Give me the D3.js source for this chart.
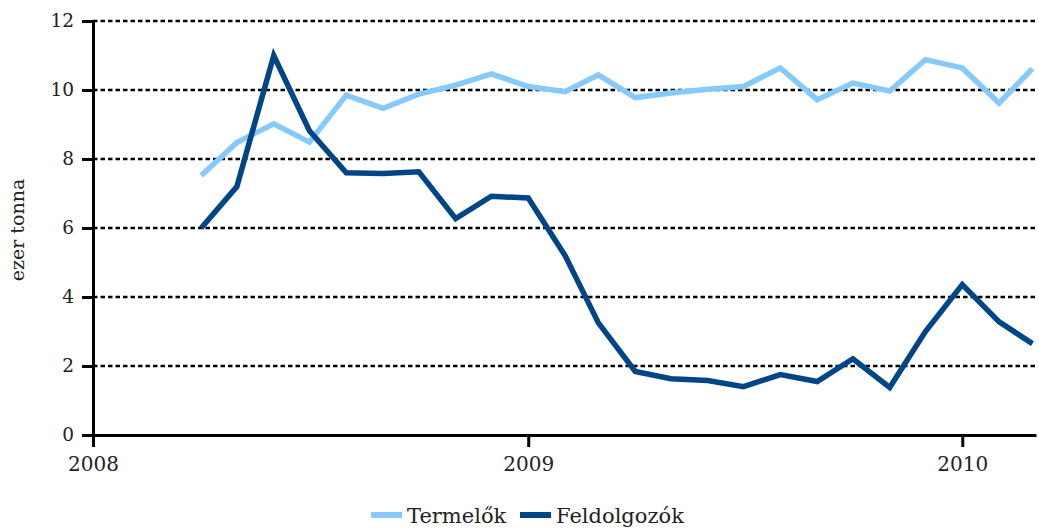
<!DOCTYPE html>
<html>
<meta charset="utf-8">
<script src="https://d3js.org/d3.v7.min.js"></script>
<style>
  body { margin: 0; background: #fff; }
</style>
<body>
<div id="my_dataviz"></div>
<script>
    // monthly data, Apr 2008 - Mar 2010
    const months = ["2008-04","2008-05","2008-06","2008-07","2008-08","2008-09","2008-10","2008-11","2008-12",
                    "2009-01","2009-02","2009-03","2009-04","2009-05","2009-06","2009-07","2009-08","2009-09",
                    "2009-10","2009-11","2009-12","2010-01","2010-02","2010-03"];
    const termelok = [7.52, 8.48, 9.02, 8.49, 9.85, 9.47, 9.88, 10.14, 10.47, 10.1, 9.95, 10.44,
                      9.78, 9.91, 10.02, 10.1, 10.64, 9.72, 10.2, 9.97, 10.88, 10.64, 9.62, 10.62];
    const feldolgozok = [6.0, 7.2, 11.0, 8.82, 7.6, 7.58, 7.63, 6.27, 6.92, 6.87, 5.2, 3.25,
                         1.84, 1.63, 1.58, 1.4, 1.75, 1.55, 2.21, 1.38, 3.0, 4.36, 3.28, 2.65];
    const yTicks = [0, 2, 4, 6, 8, 10, 12];
    const xTicks = ["2008", "2009", "2010"];

    const seriesNames = ["Termelők", "Feldolgozók"];
    const colors = ["#86c9fd", "#004687"];

    const W = 1039, H = 530;
    const margin = {left: 93, right: 1036, top: 21, bottom: 435};
    const serif = "'DejaVu Serif', serif";

    const svg = d3.select("#my_dataviz")
        .append("svg")
        .attr("width", W)
        .attr("height", H);

    const parseMonth = d3.timeParse("%Y-%m");
    const parseYear = d3.timeParse("%Y");
    const dates = months.map(parseMonth);

    const x = d3.scaleTime()
        .domain([parseYear("2008"), new Date(2010, 2, 4)])
        .range([margin.left, margin.right]);
    const y = d3.scaleLinear()
        .domain([0, 12])
        .range([margin.bottom, margin.top]);

    // dotted grid lines
    svg.append("g")
        .selectAll("line")
        .data(yTicks.filter(function(d) { return d > 0; }))
        .join("line")
        .attr("x1", margin.left)
        .attr("x2", margin.right)
        .attr("y1", function(d) { return y(d); })
        .attr("y2", function(d) { return y(d); })
        .attr("stroke", "#000")
        .attr("stroke-width", 2.6)
        .attr("stroke-dasharray", "4.5,3");

    // Y axis
    const yAxis = svg.append("g")
        .attr("transform", "translate(" + margin.left + ",0)")
        .call(d3.axisLeft(y).tickValues(yTicks).tickSize(11).tickSizeOuter(0).tickPadding(8));
    yAxis.attr("font-family", null);
    yAxis.select(".domain").attr("stroke-width", 3).attr("stroke", "#000");
    yAxis.selectAll(".tick line").attr("stroke-width", 3).attr("stroke", "#000");
    yAxis.selectAll("text").style("font-family", serif).style("font-size", "18.5px").attr("fill", "#222");

    // X axis
    const xAxis = svg.append("g")
        .attr("transform", "translate(0," + margin.bottom + ")")
        .call(d3.axisBottom(x)
            .tickValues(xTicks.map(parseYear))
            .tickFormat(d3.timeFormat("%Y"))
            .tickSize(12).tickSizeOuter(0).tickPadding(10));
    xAxis.attr("font-family", null);
    xAxis.select(".domain").attr("stroke-width", 3).attr("stroke", "#000");
    xAxis.selectAll(".tick line").attr("stroke-width", 3).attr("stroke", "#000");
    xAxis.selectAll("text").style("font-family", serif).style("font-size", "20px").attr("fill", "#222");

    // y axis title
    svg.append("text")
        .attr("transform", "translate(24,230) rotate(-90)")
        .attr("text-anchor", "middle")
        .style("font-family", serif)
        .style("font-size", "19px")
        .attr("fill", "#222")
        .text("ezer tonna");

    // lines
    const line = d3.line()
        .x(function(d) { return x(d.date); })
        .y(function(d) { return y(d.value); });

    [termelok, feldolgozok].forEach(function(vals, i) {
        const data = vals.map(function(v, j) { return {date: dates[j], value: v}; });
        svg.append("path")
            .datum(data)
            .attr("fill", "none")
            .attr("stroke", colors[i])
            .attr("stroke-width", 5.5)
            .attr("stroke-linejoin", "miter")
            .attr("d", line);
    });

    // legend
    const legendX = [371, 520];
    const legend = svg.append("g");
    seriesNames.forEach(function(name, i) {
        legend.append("rect")
            .attr("x", legendX[i])
            .attr("y", 512)
            .attr("width", 31)
            .attr("height", 6)
            .attr("fill", colors[i]);
        legend.append("text")
            .attr("x", legendX[i] + 36)
            .attr("y", 523)
            .style("font-family", serif)
            .style("font-size", "21px")
            .attr("fill", "#222")
            .text(name);
    });
</script>
</body>
</html>
